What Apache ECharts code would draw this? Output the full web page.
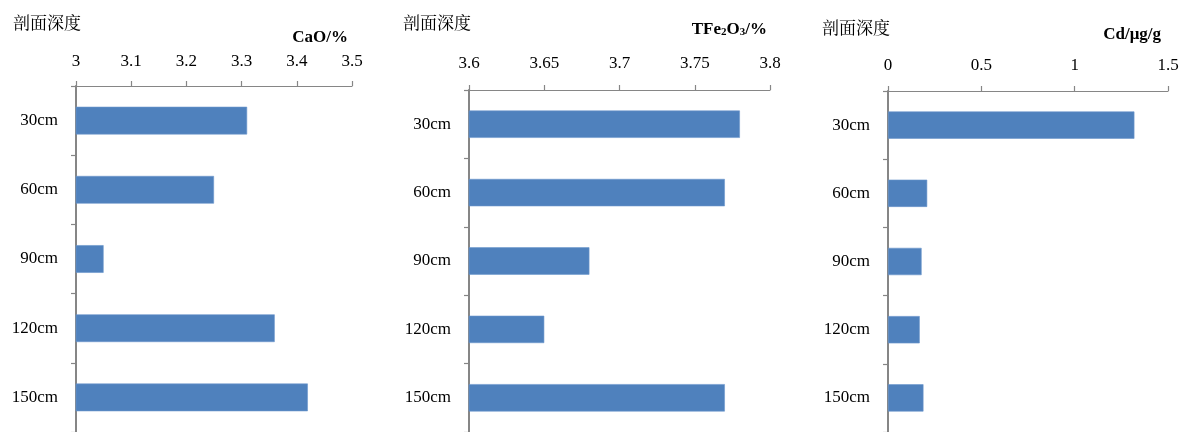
<!DOCTYPE html>
<html>
<head>
<meta charset="utf-8">
<script src="https://cdn.jsdelivr.net/npm/echarts@6/dist/echarts.min.js"></script>
<style>
  html, body { margin: 0; padding: 0; background: #fff; }
  #chart { width: 1183px; height: 432px; }
</style>
</head>
<body>
<div id="chart"></div>
<script>
// Sampling depths of the soil profile
const depths = ['30cm', '60cm', '90cm', '120cm', '150cm'];
// CaO content (%)
const caoValues = [3.31, 3.25, 3.05, 3.36, 3.42];
// TFe2O3 content (%)
const tfeValues = [3.78, 3.77, 3.68, 3.65, 3.77];
// Cd content (μg/g)
const cdValues = [1.32, 0.21, 0.18, 0.17, 0.19];

const depthLabel = '剖面深度';

const serif = "'Liberation Serif', 'Times New Roman', serif";
const cjk = "'Noto Serif CJK SC', 'Noto Sans CJK SC', sans-serif";
const axisGray = '#868686';
const barBlue = '#4F81BD';

const panels = [
  { values: caoValues, min: 3, max: 3.5, interval: 0.1,
    grid: { left: 76, top: 86, width: 276, height: 348 }, labelMargin: 16 },
  { values: tfeValues, min: 3.6, max: 3.8, interval: 0.05,
    grid: { left: 469, top: 90, width: 301, height: 345 }, labelMargin: 18 },
  { values: cdValues, min: 0, max: 1.5, interval: 0.5,
    grid: { left: 888, top: 91, width: 280, height: 345 }, labelMargin: 17 }
];

const chart = echarts.init(document.getElementById('chart'), null, { renderer: 'canvas' });

function label(x, y, text, font, align, extra) {
  return {
    type: 'text', x: x, y: y,
    style: Object.assign({
      text: text, font: font, fill: '#000',
      textAlign: align, textVerticalAlign: 'middle', align: align, verticalAlign: 'middle'
    }, extra || {})
  };
}

const option = {
  animation: false,
  backgroundColor: '#ffffff',
  grid: panels.map(p => Object.assign({ containLabel: false }, p.grid)),
  xAxis: panels.map((p, i) => ({
    type: 'value',
    gridIndex: i,
    position: 'top',
    min: p.min,
    max: p.max,
    interval: p.interval,
    splitLine: { show: false },
    axisLine: { show: true, lineStyle: { color: axisGray, width: 1.2 } },
    axisTick: { show: true, inside: false, length: 5, lineStyle: { color: axisGray, width: 1.2 } },
    axisLabel: { color: '#000', fontFamily: serif, fontSize: 17, margin: p.labelMargin }
  })),
  yAxis: panels.map((p, i) => ({
    type: 'category',
    gridIndex: i,
    data: depths,
    inverse: true,
    boundaryGap: true,
    axisLine: { show: true, lineStyle: { color: axisGray, width: 2 } },
    axisTick: { show: true, inside: false, length: 5, lineStyle: { color: axisGray, width: 1.2 } },
    axisLabel: { color: '#000', fontFamily: serif, fontSize: 17, margin: 18 },
    splitLine: { show: false }
  })),
  series: panels.map((p, i) => ({
    type: 'bar',
    xAxisIndex: i,
    yAxisIndex: i,
    data: p.values,
    barWidth: '40%',
    clip: true,
    itemStyle: { color: barBlue, borderColor: '#6b97cc', borderWidth: 0.6 }
  })),
  graphic: [
    label(13, 23, depthLabel, '17px ' + cjk, 'left'),
    label(403, 23, depthLabel, '17px ' + cjk, 'left'),
    label(822, 28, depthLabel, '17px ' + cjk, 'left'),
    label(348, 38, 'CaO/%', 'bold 17px ' + serif, 'right'),
    label(767, 27, '{m|TFe}{s|2}{m|O}{s|3}{m|/%}', 'bold 17px ' + serif, 'right', {
      rich: {
        m: { fontFamily: serif, fontWeight: 'bold', fontSize: 17, lineHeight: 22, verticalAlign: 'bottom' },
        s: { fontFamily: serif, fontWeight: 'bold', fontSize: 11, lineHeight: 9, verticalAlign: 'bottom' }
      }
    }),
    label(1161, 35, 'Cd/μg/g', 'bold 17px ' + serif, 'right')
  ]
};

chart.setOption(option);
</script>
</body>
</html>
